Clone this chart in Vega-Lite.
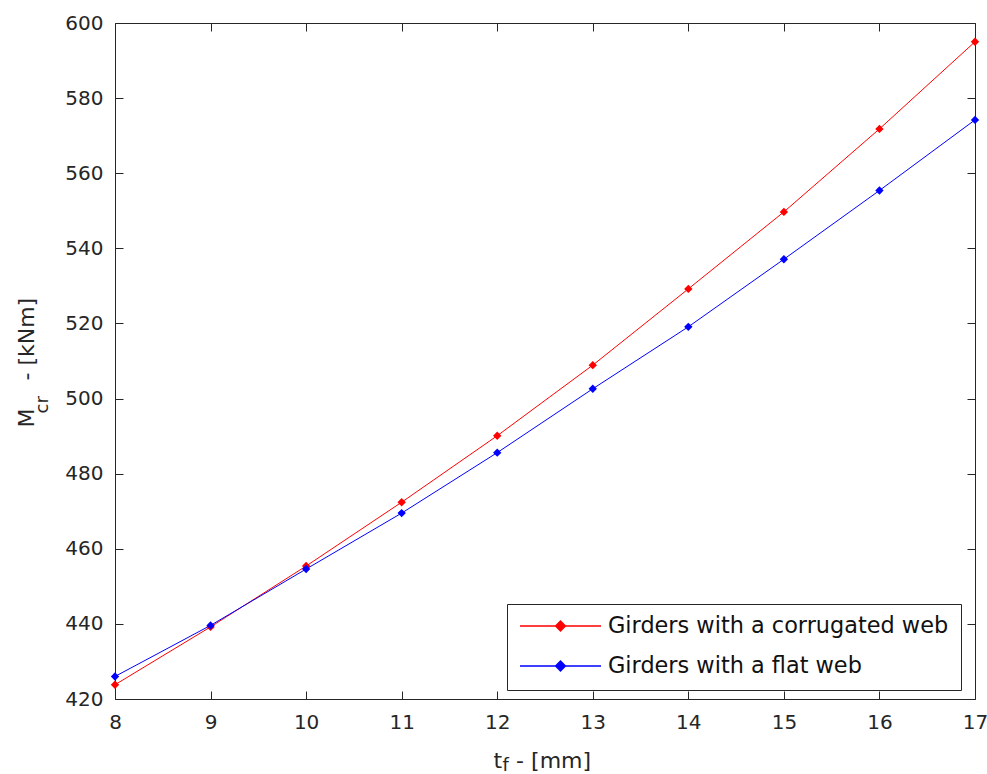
{
  "$schema": "https://vega.github.io/schema/vega-lite/v6.json",
  "width": 860,
  "height": 676,
  "autosize": {"type": "none"},
  "padding": {"left": 115, "top": 23, "right": 12, "bottom": 75},
  "background": "white",
  "config": {
    "view": {"stroke": "#262626", "strokeWidth": 1},
    "font": "DejaVu Sans",
    "axis": {
      "grid": false,
      "domain": false,
      "labelFlush": false,
      "tickColor": "#262626",
      "tickSize": -8,
      "tickWidth": 1,
      "labelFont": "DejaVu Sans",
      "labelFontSize": 20,
      "labelColor": "#262626",
      "titleFont": "DejaVu Sans",
      "titleFontWeight": "normal",
      "titleColor": "#262626"
    }
  },
  "data": {
    "values": [
      {"t": 8, "M": 423.8, "series": "Girders with a corrugated web"},
      {"t": 9, "M": 439.2, "series": "Girders with a corrugated web"},
      {"t": 10, "M": 455.4, "series": "Girders with a corrugated web"},
      {"t": 11, "M": 472.4, "series": "Girders with a corrugated web"},
      {"t": 12, "M": 490.1, "series": "Girders with a corrugated web"},
      {"t": 13, "M": 508.9, "series": "Girders with a corrugated web"},
      {"t": 14, "M": 529.2, "series": "Girders with a corrugated web"},
      {"t": 15, "M": 549.7, "series": "Girders with a corrugated web"},
      {"t": 16, "M": 571.8, "series": "Girders with a corrugated web"},
      {"t": 17, "M": 595.0, "series": "Girders with a corrugated web"},
      {"t": 8, "M": 426.0, "series": "Girders with a flat web"},
      {"t": 9, "M": 439.6, "series": "Girders with a flat web"},
      {"t": 10, "M": 454.6, "series": "Girders with a flat web"},
      {"t": 11, "M": 469.5, "series": "Girders with a flat web"},
      {"t": 12, "M": 485.6, "series": "Girders with a flat web"},
      {"t": 13, "M": 502.6, "series": "Girders with a flat web"},
      {"t": 14, "M": 519.1, "series": "Girders with a flat web"},
      {"t": 15, "M": 537.1, "series": "Girders with a flat web"},
      {"t": 16, "M": 555.4, "series": "Girders with a flat web"},
      {"t": 17, "M": 574.2, "series": "Girders with a flat web"}
    ]
  },
  "layer": [
    {
      "mark": {"type": "line", "strokeWidth": 1},
      "encoding": {
        "x": {
          "field": "t", "type": "quantitative",
          "scale": {"domain": [8, 17], "nice": false, "zero": false},
          "axis": {
            "orient": "bottom",
            "values": [8, 9, 10, 11, 12, 13, 14, 15, 16, 17],
            "labelPadding": 21,
            "title": "t\u00a0\u00a0- [mm]",
            "titleFontSize": 22,
            "titleX": 378,
            "titleY": 68,
            "titleAlign": "left",
            "titleBaseline": "alphabetic"
          }
        },
        "y": {
          "field": "M", "type": "quantitative",
          "scale": {"domain": [420, 600], "nice": false, "zero": false},
          "axis": {
            "orient": "left",
            "values": [420, 440, 460, 480, 500, 520, 540, 560, 580, 600],
            "labelPadding": 20,
            "title": "M\u00a0\u00a0\u00a0\u00a0- [kNm]",
            "titleFontSize": 22,
            "titleAngle": 270,
            "titleX": -82,
            "titleY": 404,
            "titleAlign": "left",
            "titleBaseline": "alphabetic"
          }
        },
        "color": {
          "field": "series", "type": "nominal",
          "scale": {"domain": ["Girders with a corrugated web", "Girders with a flat web"], "range": ["#ff0000", "#0000ff"]},
          "legend": {
            "title": null,
            "orient": "none",
            "legendX": 392,
            "legendY": 581,
            "symbolType": "M-1,0L1,0M0,-0.12L0.12,0L0,0.12L-0.12,0Z",
            "symbolSize": 6561,
            "symbolStrokeWidth": 1.5,
            "clipHeight": 20,
            "labelFont": "DejaVu Sans",
            "labelFontSize": 22.4,
            "labelColor": "#111111",
            "labelOffset": 6,
            "labelLimit": 0,
            "padding": 12,
            "rowPadding": 17,
            "strokeColor": "#262626",
            "fillColor": "white",
            "encode": {
              "symbols": {
                "update": {
                  "fill": {"scale": "color", "field": "value"},
                  "stroke": {"scale": "color", "field": "value"}
                }
              }
            }
          }
        }
      }
    },
    {
      "mark": {"type": "point", "filled": true, "shape": "diamond", "size": 70, "opacity": 1},
      "encoding": {
        "x": {
          "field": "t", "type": "quantitative",
          "axis": {
            "orient": "top",
            "values": [8, 9, 10, 11, 12, 13, 14, 15, 16, 17],
            "labels": false,
            "title": "f",
            "titleFontSize": 18,
            "titleX": 387,
            "titleY": 747,
            "titleAlign": "left",
            "titleBaseline": "alphabetic"
          }
        },
        "y": {
          "field": "M", "type": "quantitative",
          "axis": {
            "orient": "right",
            "values": [420, 440, 460, 480, 500, 520, 540, 560, 580, 600],
            "labels": false,
            "title": "cr",
            "titleFontSize": 18,
            "titleAngle": 270,
            "titleX": -928,
            "titleY": 390,
            "titleAlign": "left",
            "titleBaseline": "alphabetic"
          }
        },
        "color": {"field": "series", "type": "nominal"}
      }
    }
  ],
  "resolve": {"axis": {"x": "independent", "y": "independent"}}
}
